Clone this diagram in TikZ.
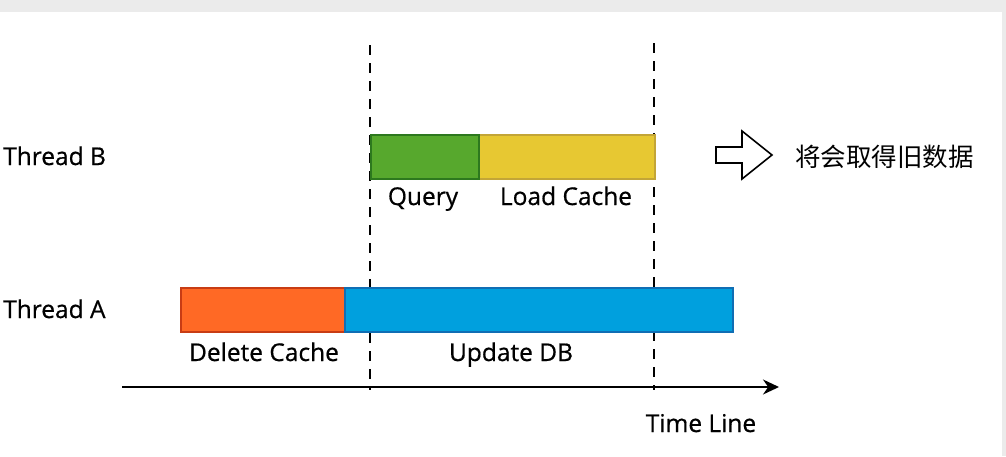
\documentclass[tikz,border=0pt]{standalone}
\usepackage{fontspec}
\setmainfont{Open Sans}
\newfontfamily\lblfont[FakeBold=0.6]{Open Sans}
\newfontfamily\cjkfont{Noto Sans CJK SC}
\usetikzlibrary{arrows.meta}
\definecolor{bandgray}{HTML}{EBEBEB}
\definecolor{qfill}{HTML}{57A82D}
\definecolor{qdraw}{HTML}{2D781E}
\definecolor{lfill}{HTML}{E7C832}
\definecolor{ldraw}{HTML}{C3A537}
\definecolor{dfill}{HTML}{FF6925}
\definecolor{ddraw}{HTML}{C83C14}
\definecolor{ufill}{HTML}{00A0DE}
\definecolor{udraw}{HTML}{106EB4}
\tikzset{
  bar/.style={rectangle, line width=1.6pt, inner sep=0pt, anchor=north west, minimum height=44pt},
  lbl/.style={inner sep=0pt, text height=17pt, text depth=5pt, font=\lblfont\fontsize{24.5}{28}\selectfont},
  guide/.style={line width=1.8pt, dash pattern=on 10pt off 8pt},
  timeline/.style={line width=1.8pt, -{Stealth[length=16pt,width=15pt]}},
}
\begin{document}
\begin{tikzpicture}[x=1pt,y=-1pt]
\fill[bandgray] (0,0) rectangle (1006,456);
\fill[white] (0,12) rectangle (1002,456);
\useasboundingbox (0,0) rectangle (1006,456);
% guides
\coordinate (g1t) at (370,45);
\coordinate (g1b) at (370,390);
\coordinate (g2t) at (654,43);
\coordinate (g2b) at (654,390);
\draw[guide] (g1t) -- (g1b);
\draw[guide] (g2t) -- (g2b);
% thread B
\node[bar, draw=ldraw, fill=lfill, minimum width=176pt] (load) at (478,134) {};
\node[bar, draw=qdraw, fill=qfill, minimum width=108pt] (query) at (370,134) {};
% thread A
\node[bar, draw=ddraw, fill=dfill, minimum width=164pt] (del) at (180,287) {};
\node[bar, draw=udraw, fill=ufill, minimum width=388pt] (upd) at (344,287) {};
% labels
\node[lbl, anchor=west] (tb) at (3,159) {Thread B};
\node[lbl, anchor=west] (ta) at (3,312) {Thread A};
\node[lbl] (ql) at (423,199) {Query};
\node[lbl] (ll) at (566,199) {Load Cache};
\node[lbl] (dl) at (264,355) {Delete Cache};
\node[lbl] (ul) at (511,355) {Update DB};
\node[lbl] (tl) at (701,426) {Time Line};
% timeline
\coordinate (ts) at (122,387);
\coordinate (te) at (779,387);
\draw[timeline] (ts) -- (te);
% hollow arrow
\draw[line width=1.6pt, line join=miter] (716,147) -- (742,147) -- (742,131) -- (772,155) -- (742,179) -- (742,163) -- (716,163) -- cycle;
\node[inner sep=0pt, anchor=west, font=\cjkfont\fontsize{25.5}{30}\selectfont] (res) at (795,157) {将会取得旧数据};
\end{tikzpicture}
\end{document}
